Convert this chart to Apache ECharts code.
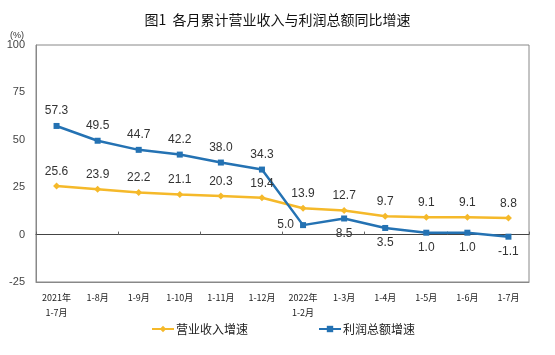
<!DOCTYPE html>
<html><head><meta charset="utf-8">
<script src="https://cdn.jsdelivr.net/npm/echarts@6/dist/echarts.min.js"></script>
<style>html,body{margin:0;padding:0;background:#fff}#c{width:555px;height:355px}</style>
</head><body><div id="c"></div>
<script>
const categories = ['2021年\n1-7月','1-8月','1-9月','1-10月','1-11月','1-12月','2022年\n1-2月','1-3月','1-4月','1-5月','1-6月','1-7月'];
const revenue = [25.6, 23.9, 22.2, 21.1, 20.3, 19.4, 13.9, 12.7, 9.7, 9.1, 9.1, 8.8];
const profit = [57.3, 49.5, 44.7, 42.2, 38.0, 34.3, 5.0, 8.5, 3.5, 1.0, 1.0, -1.1];
const yTicks = [-25, 0, 25, 50, 75, 100];

const profitPos = profit.map((v, i) => i < 6 ? 'top' : (i === 6 ? 'left' : 'bottom'));
const chart = echarts.init(document.getElementById('c'));
const fmt = p => Number(p.value).toFixed(1);
const lblFont = {fontFamily: 'Arial, "Liberation Sans", sans-serif', fontSize: 12, color: '#333', formatter: fmt};
chart.setOption({
  animation: false,
  title: {text: '图1  各月累计营业收入与利润总额同比增速', left: 'center', top: 8,
    textStyle: {fontFamily: '"Noto Sans CJK SC"', fontSize: 14, fontWeight: 'normal', color: '#111'}},
  grid: {left: 36, right: 26, top: 45, bottom: 73, show: true, borderColor: '#888', borderWidth: 1},
  legend: {bottom: 15, left: 146, itemGap: 70, itemWidth: 22, itemHeight: 8,
    textStyle: {fontFamily: '"Noto Sans CJK SC"', fontSize: 12, color: '#222', padding: [0, 0, 0, -3]}},
  xAxis: [{
    type: 'category', data: categories, position: 'bottom',
    axisLine: {onZero: false, show: true, lineStyle: {color: '#888'}},
    axisTick: {show: false},
    axisLabel: {interval: 0, fontFamily: '"Noto Sans CJK SC"', fontSize: 9, color: '#222', margin: 8, lineHeight: 15}
  }, {
    type: 'category', data: categories, position: 'bottom',
    axisLine: {onZero: true, show: true, lineStyle: {color: '#444'}},
    axisTick: {show: true, inside: true, length: 3, lineStyle: {color: '#666'}},
    axisLabel: {show: false}
  }],
  yAxis: {
    type: 'value', min: yTicks[0], max: yTicks[yTicks.length - 1], interval: 25,
    name: '(%)', nameLocation: 'end', nameGap: 4,
    nameTextStyle: {fontSize: 9, color: '#333', align: 'right', padding: [0, 12, 0, 0]},
    axisLine: {show: true, lineStyle: {color: '#888'}},
    axisTick: {show: false},
    splitLine: {show: false},
    axisLabel: {fontFamily: 'Arial, "Liberation Sans", sans-serif', fontSize: 11, color: '#444', margin: 11}
  },
  series: [{
    name: '营业收入增速', type: 'line', data: revenue,
    color: '#F5B92A', symbol: 'diamond', symbolSize: 7,
    lineStyle: {width: 2.5, color: '#F5B92A'}, itemStyle: {color: '#F5B92A'},
    label: Object.assign({show: true, position: 'top', distance: 5}, lblFont)
  }, {
    name: '利润总额增速', type: 'line', data: profit.map((v, i) => ({value: v, label: {position: profitPos[i]}})),
    color: '#2472B3', symbol: 'rect', symbolSize: 6,
    lineStyle: {width: 2.5, color: '#2472B3'}, itemStyle: {color: '#2472B3'},
    label: Object.assign({show: true, position: 'top', distance: 6}, lblFont)
  }]
});
</script></body></html>
